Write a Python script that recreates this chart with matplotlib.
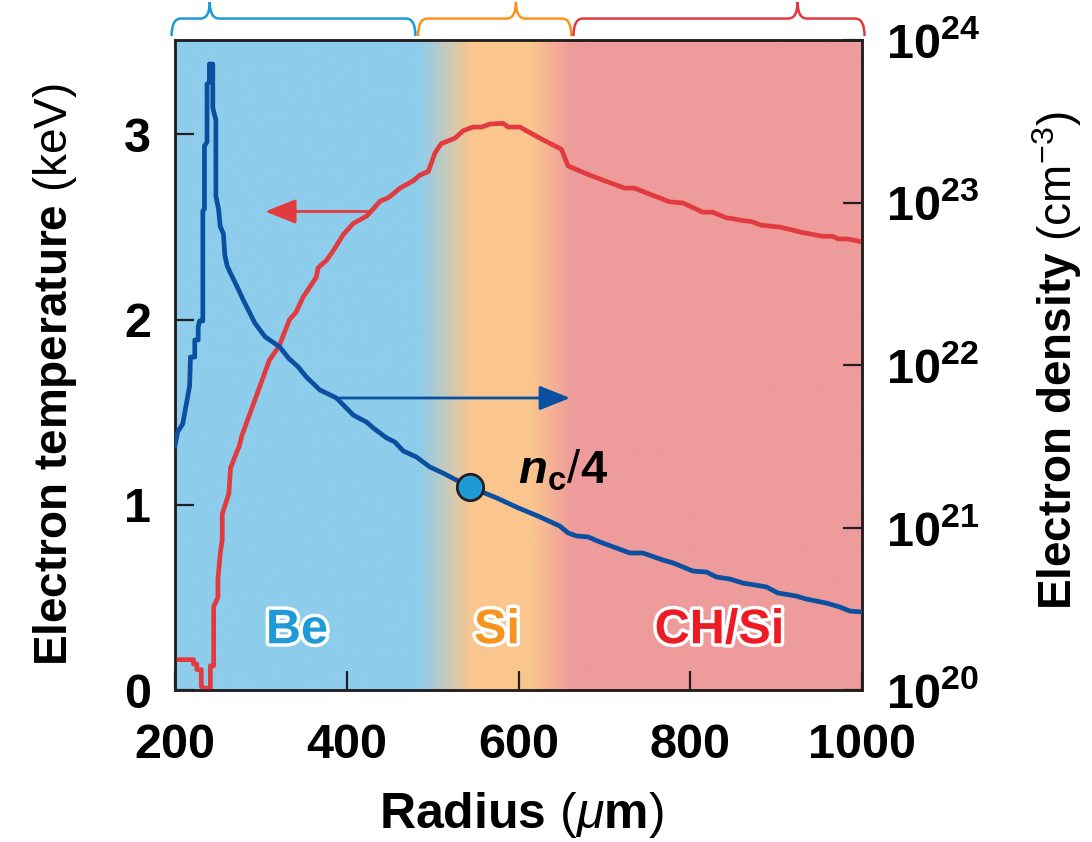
import numpy as np
import matplotlib
matplotlib.use('Agg')
import matplotlib.pyplot as plt
import matplotlib.patheffects as pe
from matplotlib.path import Path
from matplotlib.patches import PathPatch
from matplotlib.transforms import blended_transform_factory

plt.rcParams['font.family'] = ['Liberation Sans', 'DejaVu Sans']
plt.rcParams['mathtext.fontset'] = 'custom'
plt.rcParams['mathtext.rm'] = 'Liberation Sans'
plt.rcParams['mathtext.it'] = 'Liberation Sans:italic'
plt.rcParams['mathtext.bf'] = 'Liberation Sans:bold'
plt.rcParams['mathtext.bfit'] = 'Liberation Sans:italic:bold'

# electron temperature (red, left axis)
radius_T = [200, 221.6, 221.6, 225.5, 225.5, 230.6, 230.6, 234.5, 241.2, 241.2,
            245, 245, 250, 250, 253, 255, 255, 262.7, 264.7, 275, 277.6, 309.8,
            321.5, 333.3, 341, 349, 364.6, 366.6, 376.4, 384, 396, 407.8, 423.4,
            439, 449, 462, 477.5, 485, 495, 502.7, 510, 526, 535.6, 547, 557,
            566.7, 582, 588, 601.5, 624.8, 650, 657.7, 683, 723.6, 735, 776,
            791.5, 814.7, 826, 842, 849.6, 861, 871, 882.5, 904, 917, 931, 954,
            966, 971.7, 983, 1000]
temp_keV = [0.164, 0.164, 0.14, 0.14, 0.11, 0.11, 0.02, 0.01, 0.01, 0.13,
            0.13, 0.45, 0.5, 0.6, 0.75, 0.81, 0.95, 1.06, 1.2, 1.32, 1.37, 1.78,
            1.86, 2.0, 2.04, 2.12, 2.23, 2.28, 2.32, 2.37, 2.46, 2.52, 2.56,
            2.64, 2.66, 2.71, 2.75, 2.78, 2.80, 2.90, 2.95, 2.98, 3.02, 3.04, 3.04,
            3.056, 3.06, 3.04, 3.04, 2.98, 2.92, 2.83, 2.78, 2.71, 2.71, 2.636,
            2.63, 2.58, 2.58, 2.55, 2.545, 2.535, 2.53, 2.51, 2.50, 2.486, 2.47, 2.45,
            2.45, 2.436, 2.436, 2.42]

# electron density (blue, right axis), log10 of cm^-3
radius_n = [200, 203, 209, 212.6, 217, 218, 223, 223, 227, 227, 228.6, 232.4,
            232.4, 234.3, 234.3, 237.3, 237.3, 240, 240, 244, 244, 247.6, 247.6,
            250.7, 252.6, 256.4, 258, 260.8, 264, 272.5, 279.5, 293, 304.8, 322,
            332, 343.5, 353, 368.8, 388, 396, 407.6, 423, 431, 446.4, 456, 465.8,
            481, 496.9, 512, 543.4, 574.5, 600, 625, 648, 658, 667.6, 681, 694.8,
            729.7, 745, 768, 780, 803, 819, 830.6, 846, 861.6, 888.8, 902, 923.7,
            935, 958.6, 974, 985.8, 1000]
dens_log10 = [21.502, 21.588, 21.637, 21.742, 21.871, 22.049, 22.049, 22.154,
              22.154, 22.234, 22.271, 22.271, 22.948, 22.960, 23.348, 23.372,
              23.729, 23.742, 23.852, 23.852, 23.582, 23.508, 23.040, 22.960,
              22.855, 22.806, 22.677, 22.609, 22.572, 22.480, 22.400, 22.258,
              22.174, 22.111, 22.043, 21.988, 21.926, 21.846, 21.797, 21.754,
              21.692, 21.649, 21.612, 21.551, 21.526, 21.471, 21.434, 21.372,
              21.335, 21.249, 21.182, 21.120, 21.065, 21.009, 20.966, 20.948,
              20.942, 20.911, 20.843, 20.843, 20.800, 20.782, 20.732, 20.726,
              20.695, 20.683, 20.658, 20.634, 20.597, 20.578, 20.560, 20.535,
              20.511, 20.486, 20.480]

# quarter-critical density point
nc4_radius = 543.4
nc4_log10 = 21.249

# layer regions (start, end, bracket tip)
layers = ['Be', 'Si', 'CH/Si']
layer_span = [(196, 480, 240.5), (483, 661.6, 597), (664, 1003, 925)]
layer_label_x = [342, 575, 834]

BLUE_BG = np.array([142, 205, 235]) / 255
ORANGE_BG = np.array([250, 198, 142]) / 255
PINK_BG = np.array([238, 155, 155]) / 255
RED = '#E23B3F'
DKBLUE = '#0A4FA0'
LBLUE = '#1E9BD7'
ORANGE = '#F7941D'
LABEL_RED = '#ED1C24'
INK = '#231F20'

fig = plt.figure(figsize=(10.92, 8.42), dpi=100)
ax = fig.add_axes([175 / 1092, 1 - 690 / 842, 687 / 1092, 650 / 842])
ax2 = ax.twinx()

TMAX = 3.51
ax.set_xlim(200, 1000)
ax.set_ylim(0, TMAX)
ax2.set_yscale('log')
ax2.set_ylim(1e20, 1e24)

# background gradient
xs = np.linspace(200, 1000, 1601)
stops = [200, 485, 545, 615, 663, 1000]
cols = [BLUE_BG, BLUE_BG, ORANGE_BG, ORANGE_BG, PINK_BG, PINK_BG]
img = np.stack([np.interp(xs, stops, [c[i] for c in cols]) for i in range(3)], axis=-1)
ax.imshow(img[np.newaxis, :, :], extent=[200, 1000, 0, TMAX], aspect='auto',
          zorder=0, interpolation='bilinear')

ax.plot(radius_T, temp_keV, color=RED, lw=3.4, zorder=3)
ax2.plot(radius_n, 10 ** np.array(dens_log10), color=DKBLUE, lw=3.4, zorder=3)
ax2.plot(nc4_radius, 10 ** nc4_log10, 'o', ms=19, mfc=LBLUE, mec=INK, mew=2, zorder=5)
ax2.text(599, 10 ** 21.27, r'$\mathbfit{n}_{\mathbf{c}}/\mathbf{4}$', fontsize=34,
         ha='left', va='baseline', color='black', zorder=6)

# arrows pointing to the axis of each curve
ax.annotate('', xy=(305, 2.584), xytext=(425, 2.584),
            arrowprops=dict(arrowstyle='-|>,head_length=1.05,head_width=0.42',
                            mutation_scale=18, color=RED, lw=2, shrinkA=0, shrinkB=0))
ax2.annotate('', xy=(660, 10 ** 21.797), xytext=(392, 10 ** 21.797),
             arrowprops=dict(arrowstyle='-|>,head_length=1.05,head_width=0.42',
                             mutation_scale=18, color=DKBLUE, lw=2, shrinkA=0, shrinkB=0))

# layer labels
for name, xl, c in zip(layers, layer_label_x, [LBLUE, ORANGE, LABEL_RED]):
    ax.text(xl, 0.32, name, color=c, fontsize=35, fontweight='bold', ha='center',
            va='center', zorder=4,
            path_effects=[pe.withStroke(linewidth=5, foreground='white')])

# brackets above the plot
tr = blended_transform_factory(ax.transData, ax.transAxes)
yb, ym, yt = 1.006, 1.033, 1.0585
r = 11
for (x0, x1, xt), c in zip(layer_span, [LBLUE, ORANGE, RED]):
    verts = [(x0, yb), (x0, ym), (x0 + r, ym), (xt - r, ym), (xt, ym), (xt, yt),
             (xt, ym), (xt + r, ym), (x1 - r, ym), (x1, ym), (x1, yb)]
    codes = [Path.MOVETO, Path.CURVE3, Path.CURVE3, Path.LINETO, Path.CURVE3,
             Path.CURVE3, Path.CURVE3, Path.CURVE3, Path.LINETO, Path.CURVE3, Path.CURVE3]
    ax.add_patch(PathPatch(Path(verts, codes), transform=tr, fill=False, ec=c,
                           lw=1.8, clip_on=False))

# ticks
ax.set_xticks([200, 400, 600, 800, 1000])
ax.set_xticklabels(['200', '400', '600', '800', '1000'])
ax.set_yticks([0, 1, 2, 3])
ax2.set_yticks([1e20, 1e21, 1e22, 1e23, 1e24])
ax2.set_yticklabels([r'$\mathbf{10^{%d}}$' % e for e in range(20, 25)])
ax2.yaxis.set_minor_locator(matplotlib.ticker.NullLocator())

for a in (ax, ax2):
    for s in a.spines.values():
        s.set_linewidth(1.8)
        s.set_color(INK)
    a.set_facecolor('none')
ax.tick_params(axis='both', direction='in', length=14, width=1.6, color=INK,
               labelsize=35, top=False, right=False)
ax.tick_params(axis='x', pad=24)
ax.tick_params(axis='y', pad=17)
ax2.tick_params(axis='y', direction='in', length=14, width=1.6, color=INK,
                labelsize=35, pad=17)
for lab in ax.get_xticklabels() + ax.get_yticklabels():
    lab.set_fontweight('bold')

fig.text(55 / 1092, 1 - 375 / 842, r'$\mathbf{Electron\ temperature}$ (keV)',
         rotation=90, ha='center', va='center', fontsize=33)
fig.text(1057 / 1092, 1 - 361 / 842, r'$\mathbf{Electron\ density}$ (cm$^{-3}$)',
         rotation=90, ha='center', va='center', fontsize=33)
fig.text(521 / 1092, 1 - 815 / 842, r'$\mathbf{Radius}$ ($\mu\mathbf{m}$)',
         ha='center', va='center', fontsize=36)

fig.savefig('out.png', dpi=100, facecolor='white')
